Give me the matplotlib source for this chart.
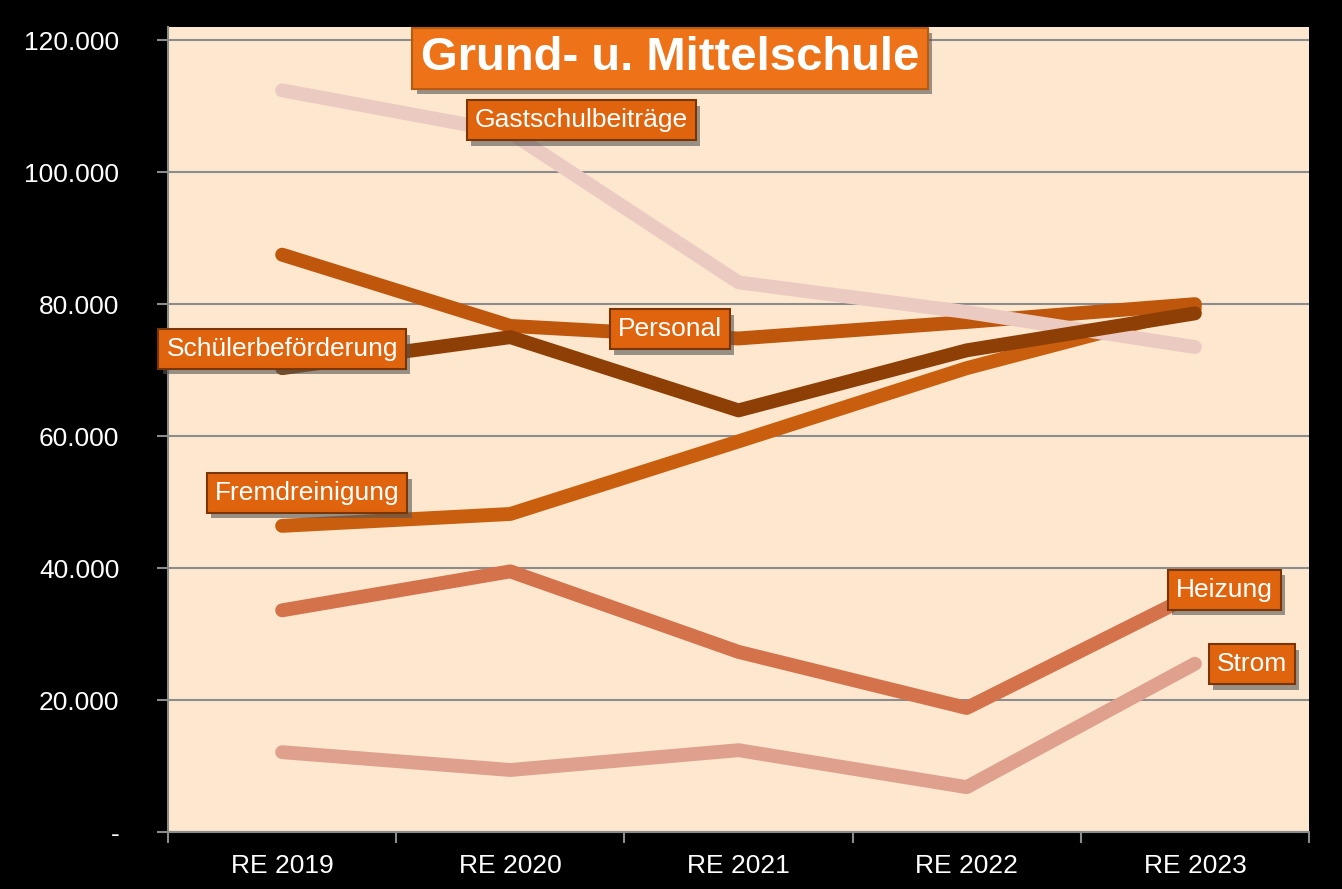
"""
Grund- u. Mittelschule: Kostenentwicklung RE 2019 - RE 2023.
"""

import matplotlib
matplotlib.use('Agg')
import matplotlib.pyplot as plt
import matplotlib.patheffects as pe
from matplotlib.ticker import FixedLocator, FuncFormatter

plt.rcParams['font.family'] = ['Liberation Sans', 'DejaVu Sans']

# Data
years = ['RE 2019', 'RE 2020', 'RE 2021', 'RE 2022', 'RE 2023']
gastschul = [112400, 106000, 83300, 78800, 73500]
personal = [87500, 76700, 74800, 77300, 80000]
schueler = [70300, 75000, 63900, 73000, 78600]
fremdreinigung = [46400, 48200, 59200, 70300, 79400]
heizung = [33600, 39500, 27300, 18800, 36100]
strom = [12100, 9400, 12400, 6800, 25500]

# Colors
bg_color = '#FDE8CF'
grid_color = '#8C8C8C'
box_color = '#E0640E'
box_edge = '#7A3505'

fig = plt.figure(figsize=(13.42, 8.89), dpi=100, facecolor='black')
ax = fig.add_axes([0.1252, 0.0641, 0.8502, 0.9055])
ax.set_facecolor(bg_color)

x = list(range(len(years)))

series = [
    (fremdreinigung, '#C95F0E', 2),
    (personal, '#BE560C', 3),
    (gastschul, '#EBCAC2', 4),
    (schueler, '#8E3F06', 5),
    (heizung, '#D4724C', 3),
    (strom, '#E0A08E', 3),
]
for vals, col, z in series:
    ax.plot(x, vals, color=col, lw=10, solid_capstyle='round',
            solid_joinstyle='round', zorder=z)

ax.set_xlim(-0.5, 4.5)
ax.set_ylim(0, 122000)

# y axis
ax.yaxis.set_major_locator(FixedLocator([0, 20000, 40000, 60000, 80000, 100000, 120000]))
ax.yaxis.set_major_formatter(FuncFormatter(
    lambda v, p: '-' if v == 0 else f'{int(v):,}'.replace(',', '.')))
ax.grid(axis='y', color=grid_color, lw=1.5, zorder=1)
ax.set_axisbelow(True)

# x axis: labels at centres, ticks at category borders
ax.set_xticks(x)
ax.set_xticklabels(years)
ax.set_xticks([-0.5, 0.5, 1.5, 2.5, 3.5, 4.5], minor=True)
ax.tick_params(axis='x', which='major', length=0, pad=16, labelsize=19, labelcolor='white')
ax.tick_params(axis='x', which='minor', length=8, width=1.5, color=grid_color)
ax.tick_params(axis='y', length=8, width=1.5, color=grid_color, pad=27,
               labelsize=19, labelcolor='white')

for s in ['top', 'right']:
    ax.spines[s].set_visible(False)
for s in ['left', 'bottom']:
    ax.spines[s].set_color(grid_color)
    ax.spines[s].set_linewidth(1.5)

shadow = [pe.SimplePatchShadow(offset=(3, -4), shadow_rgbFace='#555555', alpha=0.6), pe.Normal()]


def label_box(x0, y0, text, size=19, weight='normal', face=box_color, edge=box_edge, pad=0.3):
    t = ax.text(x0, y0, text, ha='center', va='center', fontsize=size,
                fontweight=weight, color='white', zorder=10,
                bbox=dict(boxstyle=f'square,pad={pad}', facecolor=face,
                          edgecolor=edge, linewidth=1.5))
    t.get_bbox_patch().set_path_effects(shadow)
    return t


# Title
label_box(1.70, 117300, 'Grund- u. Mittelschule', size=34, weight='bold',
          face='#EE7318', edge='#B85A12', pad=0.18)

# Series labels
label_box(1.31, 107900, 'Gastschulbeiträge')
label_box(1.70, 76200, 'Personal')
label_box(0.00, 73200, 'Schülerbeförderung')
label_box(0.11, 51400, 'Fremdreinigung')
label_box(4.13, 36700, 'Heizung')
label_box(4.25, 25450, 'Strom')

plt.savefig('out.png', dpi=100, facecolor='black')
print("saved")
